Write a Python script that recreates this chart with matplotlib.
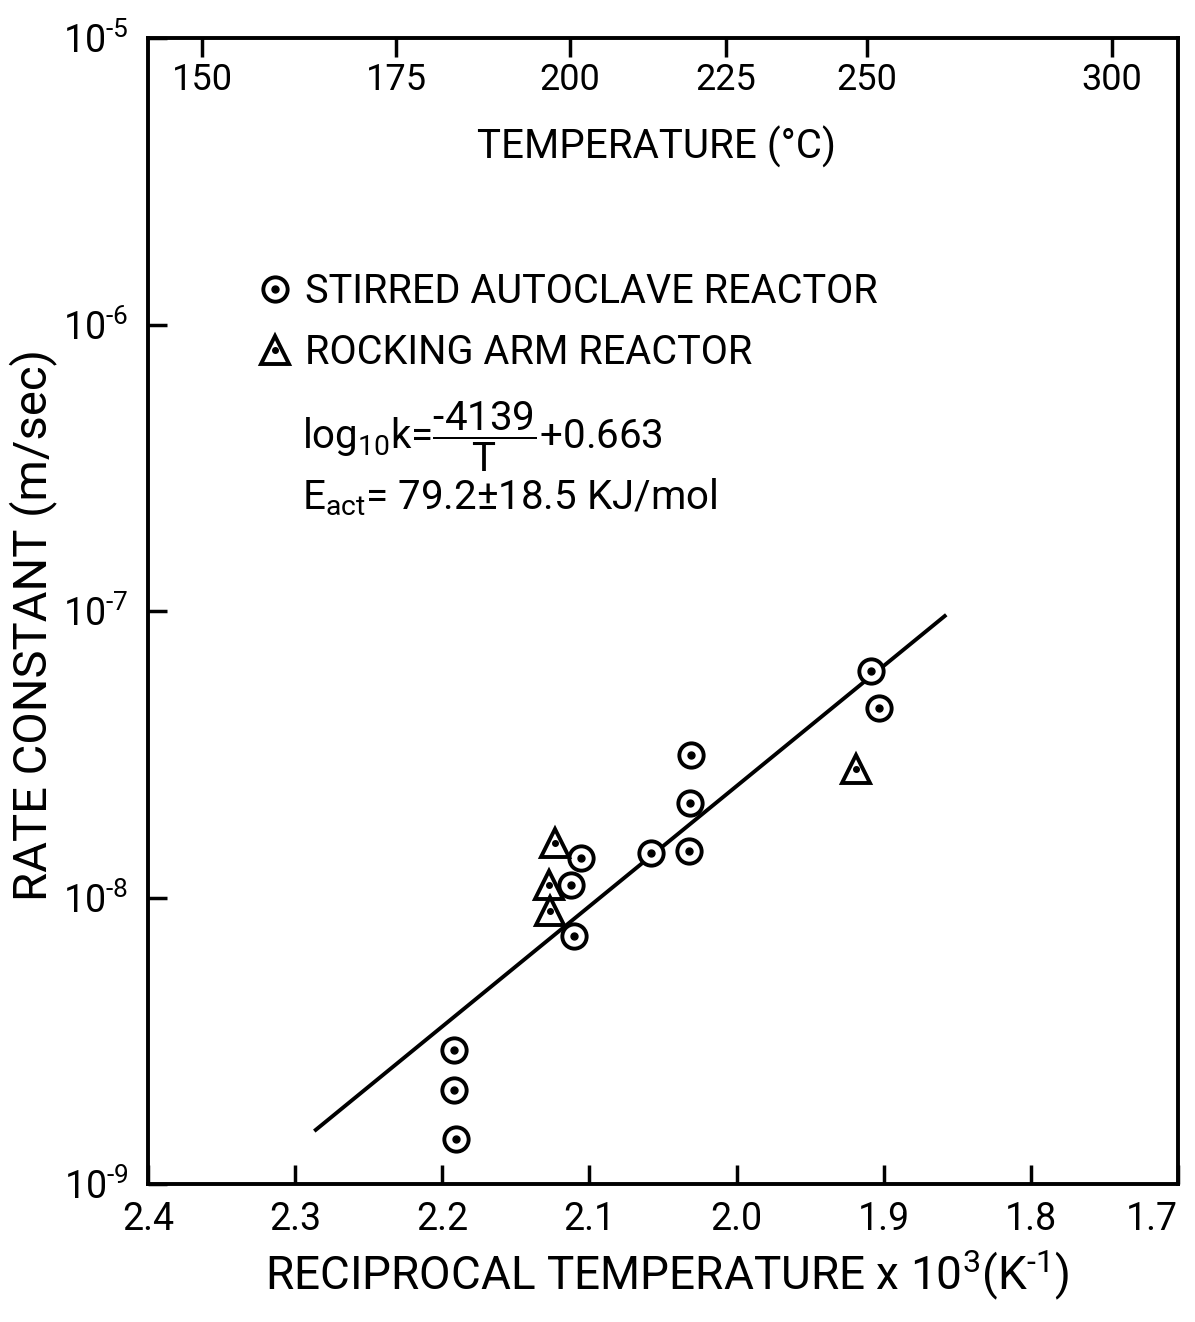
import matplotlib
matplotlib.use("Agg")
import matplotlib.pyplot as plt
import numpy as np

plt.rcParams['font.family'] = ['Roboto', 'DejaVu Sans']
plt.rcParams['mathtext.fontset'] = 'custom'
plt.rcParams['mathtext.rm'] = 'Roboto'
plt.rcParams['mathtext.it'] = 'Roboto'
plt.rcParams['mathtext.bf'] = 'Roboto'
plt.rcParams['mathtext.default'] = 'regular'

# ---- data ----
stirred_x = [1.9085, 1.903, 2.031, 2.0315, 2.032, 2.058, 2.1056, 2.1124, 2.1104, 2.192, 2.192, 2.1906]
stirred_k = [6.15e-8, 4.6e-8, 3.15e-8, 2.14e-8, 1.45e-8, 1.43e-8, 1.37e-8, 1.11e-8, 7.35e-9, 2.94e-9, 2.13e-9, 1.43e-9]
rocking_x = [1.9187, 2.1233, 2.1274, 2.1267]
rocking_k = [2.8e-8, 1.55e-8, 1.11e-8, 9.0e-9]
fit_x = [2.287, 1.8575]
fit_k = [1.53e-9, 9.7e-8]

x_ticks = [2.4, 2.3, 2.2, 2.1, 2.0, 1.9, 1.8, 1.7]
x_ticklabels = ['2.4', '2.3', '2.2', '2.1', '2.0', '1.9', '1.8', '1.7']
y_ticks = [1e-9, 1e-8, 1e-7, 1e-6, 1e-5]
y_ticklabels = [r'$10^{\text{-}9}$', r'$10^{\text{-}8}$', r'$10^{\text{-}7}$', r'$10^{\text{-}6}$', r'$10^{\text{-}5}$']
temp_c = [150, 175, 200, 225, 250, 300]
temp_labels = ['150', '175', '200', '225', '250', '300']

fig = plt.figure(figsize=(11.95, 13.22), dpi=100)
ax = fig.add_axes([148/1195, 138/1322, 1030/1195, 1146/1322])

ax.set_yscale('log')
ax.set_xlim(2.4, 1.7)
ax.set_ylim(1e-9, 1e-5)

lw = 2.8
ax.plot(fit_x, fit_k, color='black', lw=lw, solid_capstyle='butt', zorder=2)

circ_kw = dict(linestyle='none', marker='o', ms=17.5, mfc='white', mec='black', mew=2.8, zorder=3)
dot_kw = dict(linestyle='none', marker='o', ms=5, color='black', zorder=4)
tri_kw = dict(linestyle='none', marker='^', ms=20, mfc='white', mec='black', mew=2.8, zorder=3)

h1 = ax.plot(stirred_x, stirred_k, **circ_kw)[0]
h1d = ax.plot(stirred_x, stirred_k, **dot_kw)[0]
h2 = ax.plot(rocking_x, rocking_k, **tri_kw)[0]
h2d = ax.plot(rocking_x, rocking_k, linestyle='none', marker='o', ms=4, color='black', zorder=4)[0]

for s in ax.spines.values():
    s.set_linewidth(2.8)

ax.set_xticks(x_ticks)
ax.set_xticklabels(x_ticklabels)
ax.set_yticks(y_ticks)
ax.set_yticklabels(y_ticklabels)
ax.minorticks_off()
ax.tick_params(axis='x', direction='in', length=14, width=2.5, pad=12, labelsize=27)
ax.tick_params(axis='y', direction='in', length=14, width=2.5, pad=14, labelsize=27)
ax.get_xticklabels()[-1].set_horizontalalignment('right')
ax.get_xticklabels()[0].set_horizontalalignment('center')

ax.set_xlabel(r'RECIPROCAL TEMPERATURE x 10$^3$(K$^{\text{-}1}$)', fontsize=33)
ax.xaxis.set_label_coords(0.504, -0.055)
ax.set_ylabel('RATE CONSTANT (m/sec)', fontsize=34)
ax.yaxis.set_label_coords(-0.088, 0.488)

# top temperature axis
ax2 = ax.twiny()
ax2.set_xlim(ax.get_xlim())
ax2.set_xticks([1000.0 / (t + 273.15) for t in temp_c])
ax2.set_xticklabels(temp_labels)
ax2.minorticks_off()
ax2.tick_params(axis='x', direction='in', length=14, width=2.5, pad=-43, labelsize=26)
ax2.text(0.494, 0.905, 'TEMPERATURE (°C)', transform=ax.transAxes, ha='center', va='center', fontsize=29)

# legend
leg = ax.legend([(h1, h1d), (h2, h2d)], ['STIRRED AUTOCLAVE REACTOR', 'ROCKING ARM REACTOR'],
                loc='upper left', bbox_to_anchor=(0.085, 0.813), frameon=False, fontsize=28.5,
                handlelength=1.0, handletextpad=0.25, labelspacing=0.55, borderpad=0)

ax.text(0.150, 0.652, r'log$_{10}$k=$\dfrac{\text{-}4139}{T}$+0.663', transform=ax.transAxes,
        ha='left', va='center', fontsize=29)
ax.text(0.150, 0.5995, r'E$_{act}$= 79.2$\pm$18.5 KJ/mol', transform=ax.transAxes,
        ha='left', va='center', fontsize=29)

fig.savefig('out.png', dpi=100)
